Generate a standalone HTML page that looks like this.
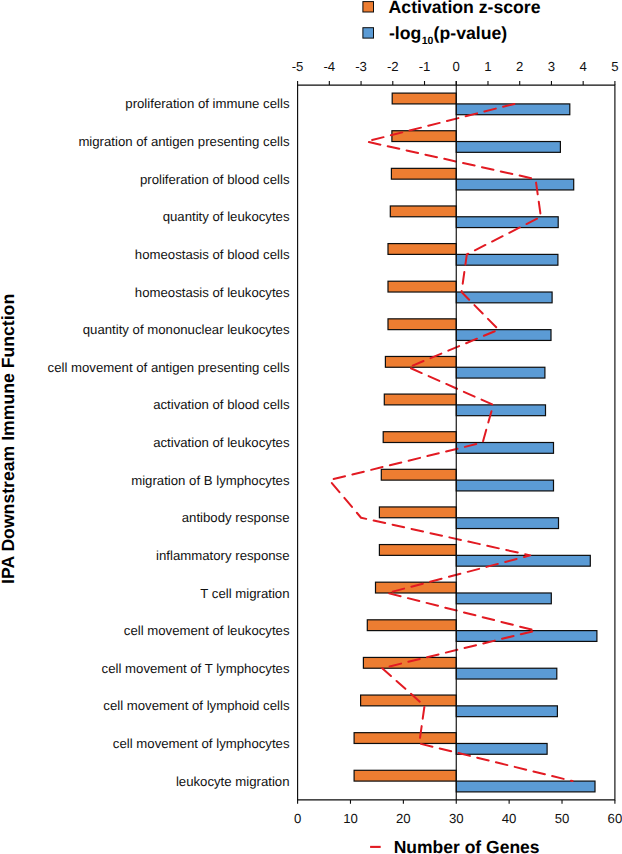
<!DOCTYPE html>
<html lang="en"><head><meta charset="utf-8"><title>IPA Downstream Immune Function</title>
<style>
html,body{margin:0;padding:0;background:#fff;}
body{width:622px;height:854px;overflow:hidden;}
svg{display:block;}
text{font-family:"Liberation Sans",Arial,Helvetica,sans-serif;fill:#111;text-rendering:geometricPrecision;}
.b{font-weight:bold;font-size:17.65px;fill:#000;}
.t{font-size:13.2px;}
</style></head><body>
<svg width="622" height="854" viewBox="0 0 622 854">
<rect x="0" y="0" width="622" height="854" fill="#fff"/>
<rect x="362.9" y="1.6" width="10.6" height="10.4" fill="#ED7D31" stroke="#0d0d0d" stroke-width="1"/>
<rect x="362.9" y="27.7" width="10.6" height="10.4" fill="#5B9BD5" stroke="#0d0d0d" stroke-width="1"/>
<text class="b" x="388.6" y="12.6">Activation z-score</text>
<text class="b" x="389" y="39.4">-log<tspan font-size="10.5" dy="4.3" dx="0.4">10</tspan><tspan dy="-4.3" dx="0.2">(p-value)</tspan></text>
<rect x="392.20" y="93.11" width="64.05" height="10.80" fill="#ED7D31" stroke="#0d0d0d" stroke-width="1.2"/>
<rect x="456.25" y="103.91" width="113.55" height="10.80" fill="#5B9BD5" stroke="#0d0d0d" stroke-width="1.2"/>
<rect x="391.90" y="130.73" width="64.35" height="10.80" fill="#ED7D31" stroke="#0d0d0d" stroke-width="1.2"/>
<rect x="456.25" y="141.53" width="104.15" height="10.80" fill="#5B9BD5" stroke="#0d0d0d" stroke-width="1.2"/>
<rect x="391.40" y="168.35" width="64.85" height="10.80" fill="#ED7D31" stroke="#0d0d0d" stroke-width="1.2"/>
<rect x="456.25" y="179.15" width="117.45" height="10.80" fill="#5B9BD5" stroke="#0d0d0d" stroke-width="1.2"/>
<rect x="390.30" y="205.97" width="65.95" height="10.80" fill="#ED7D31" stroke="#0d0d0d" stroke-width="1.2"/>
<rect x="456.25" y="216.77" width="101.95" height="10.80" fill="#5B9BD5" stroke="#0d0d0d" stroke-width="1.2"/>
<rect x="388.00" y="243.59" width="68.25" height="10.80" fill="#ED7D31" stroke="#0d0d0d" stroke-width="1.2"/>
<rect x="456.25" y="254.39" width="101.65" height="10.80" fill="#5B9BD5" stroke="#0d0d0d" stroke-width="1.2"/>
<rect x="388.00" y="281.22" width="68.25" height="10.80" fill="#ED7D31" stroke="#0d0d0d" stroke-width="1.2"/>
<rect x="456.25" y="292.02" width="95.85" height="10.80" fill="#5B9BD5" stroke="#0d0d0d" stroke-width="1.2"/>
<rect x="388.00" y="318.84" width="68.25" height="10.80" fill="#ED7D31" stroke="#0d0d0d" stroke-width="1.2"/>
<rect x="456.25" y="329.64" width="94.75" height="10.80" fill="#5B9BD5" stroke="#0d0d0d" stroke-width="1.2"/>
<rect x="385.40" y="356.46" width="70.85" height="10.80" fill="#ED7D31" stroke="#0d0d0d" stroke-width="1.2"/>
<rect x="456.25" y="367.26" width="88.65" height="10.80" fill="#5B9BD5" stroke="#0d0d0d" stroke-width="1.2"/>
<rect x="384.30" y="394.08" width="71.95" height="10.80" fill="#ED7D31" stroke="#0d0d0d" stroke-width="1.2"/>
<rect x="456.25" y="404.88" width="89.25" height="10.80" fill="#5B9BD5" stroke="#0d0d0d" stroke-width="1.2"/>
<rect x="383.20" y="431.70" width="73.05" height="10.80" fill="#ED7D31" stroke="#0d0d0d" stroke-width="1.2"/>
<rect x="456.25" y="442.50" width="97.25" height="10.80" fill="#5B9BD5" stroke="#0d0d0d" stroke-width="1.2"/>
<rect x="381.30" y="469.32" width="74.95" height="10.80" fill="#ED7D31" stroke="#0d0d0d" stroke-width="1.2"/>
<rect x="456.25" y="480.12" width="97.25" height="10.80" fill="#5B9BD5" stroke="#0d0d0d" stroke-width="1.2"/>
<rect x="379.40" y="506.94" width="76.85" height="10.80" fill="#ED7D31" stroke="#0d0d0d" stroke-width="1.2"/>
<rect x="456.25" y="517.74" width="102.25" height="10.80" fill="#5B9BD5" stroke="#0d0d0d" stroke-width="1.2"/>
<rect x="379.40" y="544.56" width="76.85" height="10.80" fill="#ED7D31" stroke="#0d0d0d" stroke-width="1.2"/>
<rect x="456.25" y="555.36" width="134.05" height="10.80" fill="#5B9BD5" stroke="#0d0d0d" stroke-width="1.2"/>
<rect x="375.50" y="582.18" width="80.75" height="10.80" fill="#ED7D31" stroke="#0d0d0d" stroke-width="1.2"/>
<rect x="456.25" y="592.98" width="95.05" height="10.80" fill="#5B9BD5" stroke="#0d0d0d" stroke-width="1.2"/>
<rect x="367.30" y="619.81" width="88.95" height="10.80" fill="#ED7D31" stroke="#0d0d0d" stroke-width="1.2"/>
<rect x="456.25" y="630.61" width="140.65" height="10.80" fill="#5B9BD5" stroke="#0d0d0d" stroke-width="1.2"/>
<rect x="363.40" y="657.43" width="92.85" height="10.80" fill="#ED7D31" stroke="#0d0d0d" stroke-width="1.2"/>
<rect x="456.25" y="668.23" width="100.55" height="10.80" fill="#5B9BD5" stroke="#0d0d0d" stroke-width="1.2"/>
<rect x="360.60" y="695.05" width="95.65" height="10.80" fill="#ED7D31" stroke="#0d0d0d" stroke-width="1.2"/>
<rect x="456.25" y="705.85" width="101.15" height="10.80" fill="#5B9BD5" stroke="#0d0d0d" stroke-width="1.2"/>
<rect x="354.10" y="732.67" width="102.15" height="10.80" fill="#ED7D31" stroke="#0d0d0d" stroke-width="1.2"/>
<rect x="456.25" y="743.47" width="90.85" height="10.80" fill="#5B9BD5" stroke="#0d0d0d" stroke-width="1.2"/>
<rect x="354.10" y="770.29" width="102.15" height="10.80" fill="#ED7D31" stroke="#0d0d0d" stroke-width="1.2"/>
<rect x="456.25" y="781.09" width="138.75" height="10.80" fill="#5B9BD5" stroke="#0d0d0d" stroke-width="1.2"/>
<g fill="none" stroke="#E21A22" stroke-width="2.0" stroke-dasharray="11.80 7.50" stroke-linejoin="round" stroke-linecap="round">
<polyline points="514.42,103.91 366.35,141.53" stroke-dasharray="11.80 7.50" stroke-dashoffset="0.10"/>
<polyline points="366.35,141.53 535.58,179.15" stroke-dasharray="11.80 7.50" stroke-dashoffset="16.70"/>
<polyline points="535.58,179.15 540.86,216.77" stroke-dasharray="11.80 7.50" stroke-dashoffset="15.80"/>
<polyline points="540.86,216.77 466.83,254.39 461.54,292.02 498.56,329.64" stroke-dasharray="11.80 7.50" stroke-dashoffset="15.00"/>
<polyline points="498.56,329.64 408.66,367.26" stroke-dasharray="11.80 7.50" stroke-dashoffset="15.20"/>
<polyline points="408.66,367.26 493.27,404.88" stroke-dasharray="11.80 7.50" stroke-dashoffset="16.80"/>
<polyline points="493.27,404.88 482.69,442.50" stroke-dasharray="11.80 7.50" stroke-dashoffset="12.70"/>
<polyline points="482.69,442.50 329.33,480.12" stroke-dasharray="11.80 7.50" stroke-dashoffset="12.70"/>
<polyline points="329.33,480.12 361.06,517.74 530.29,555.36 387.50,592.98" stroke-dasharray="11.80 7.60" stroke-dashoffset="15.50"/>
<polyline points="387.50,592.98 535.58,630.61" stroke-dasharray="11.80 7.50" stroke-dashoffset="17.60"/>
<polyline points="535.58,630.61 382.21,668.23 424.52,705.85 419.23,743.47 572.59,781.09" stroke-dasharray="11.80 7.50" stroke-dashoffset="15.90"/>
</g>
<path d="M297.60 85.10H614.90V799.90H297.60Z" fill="none" stroke="#0d0d0d" stroke-width="1.15"/>
<path d="M456.25 81.10V799.90" fill="none" stroke="#0d0d0d" stroke-width="1.15"/>
<path d="M297.60 85.10V81.10M329.33 85.10V81.10M361.06 85.10V81.10M392.79 85.10V81.10M424.52 85.10V81.10M456.25 85.10V81.10M487.98 85.10V81.10M519.71 85.10V81.10M551.44 85.10V81.10M583.17 85.10V81.10M614.90 85.10V81.10M297.60 799.90V803.80M350.48 799.90V803.80M403.37 799.90V803.80M456.25 799.90V803.80M509.13 799.90V803.80M562.02 799.90V803.80M614.90 799.90V803.80" fill="none" stroke="#0d0d0d" stroke-width="1.1"/>
<text class="t" text-anchor="middle" x="297.60" y="70.9">-5</text>
<text class="t" text-anchor="middle" x="329.33" y="70.9">-4</text>
<text class="t" text-anchor="middle" x="361.06" y="70.9">-3</text>
<text class="t" text-anchor="middle" x="392.79" y="70.9">-2</text>
<text class="t" text-anchor="middle" x="424.52" y="70.9">-1</text>
<text class="t" text-anchor="middle" x="456.25" y="70.9">0</text>
<text class="t" text-anchor="middle" x="487.98" y="70.9">1</text>
<text class="t" text-anchor="middle" x="519.71" y="70.9">2</text>
<text class="t" text-anchor="middle" x="551.44" y="70.9">3</text>
<text class="t" text-anchor="middle" x="583.17" y="70.9">4</text>
<text class="t" text-anchor="middle" x="614.90" y="70.9">5</text>
<text class="t" text-anchor="middle" x="297.60" y="823.4">0</text>
<text class="t" text-anchor="middle" x="350.48" y="823.4">10</text>
<text class="t" text-anchor="middle" x="403.37" y="823.4">20</text>
<text class="t" text-anchor="middle" x="456.25" y="823.4">30</text>
<text class="t" text-anchor="middle" x="509.13" y="823.4">40</text>
<text class="t" text-anchor="middle" x="562.02" y="823.4">50</text>
<text class="t" text-anchor="middle" x="614.90" y="823.4">60</text>
<text class="t" text-anchor="end" x="289.5" y="108.46">proliferation of immune cells</text>
<text class="t" text-anchor="end" x="289.5" y="146.08">migration of antigen presenting cells</text>
<text class="t" text-anchor="end" x="289.5" y="183.70">proliferation of blood cells</text>
<text class="t" text-anchor="end" x="289.5" y="221.32">quantity of leukocytes</text>
<text class="t" text-anchor="end" x="289.5" y="258.94">homeostasis of blood cells</text>
<text class="t" text-anchor="end" x="289.5" y="296.57">homeostasis of leukocytes</text>
<text class="t" text-anchor="end" x="289.5" y="334.19">quantity of mononuclear leukocytes</text>
<text class="t" text-anchor="end" x="289.5" y="371.81">cell movement of antigen presenting cells</text>
<text class="t" text-anchor="end" x="289.5" y="409.43">activation of blood cells</text>
<text class="t" text-anchor="end" x="289.5" y="447.05">activation of leukocytes</text>
<text class="t" text-anchor="end" x="289.5" y="484.67">migration of B lymphocytes</text>
<text class="t" text-anchor="end" x="289.5" y="522.29">antibody response</text>
<text class="t" text-anchor="end" x="289.5" y="559.91">inflammatory response</text>
<text class="t" text-anchor="end" x="289.5" y="597.53">T cell migration</text>
<text class="t" text-anchor="end" x="289.5" y="635.16">cell movement of leukocytes</text>
<text class="t" text-anchor="end" x="289.5" y="672.78">cell movement of T lymphocytes</text>
<text class="t" text-anchor="end" x="289.5" y="710.40">cell movement of lymphoid cells</text>
<text class="t" text-anchor="end" x="289.5" y="748.02">cell movement of lymphocytes</text>
<text class="t" text-anchor="end" x="289.5" y="785.64">leukocyte migration</text>
<text class="b" text-anchor="middle" transform="translate(14.2 438.9) rotate(-90)">IPA Downstream Immune Function</text>
<path d="M370.1 846.9H380.7" stroke="#E21A22" stroke-width="2.1" fill="none"/>
<text class="b" style="font-size:17.5px" x="393.7" y="853.2">Number of Genes</text>
</svg></body></html>
